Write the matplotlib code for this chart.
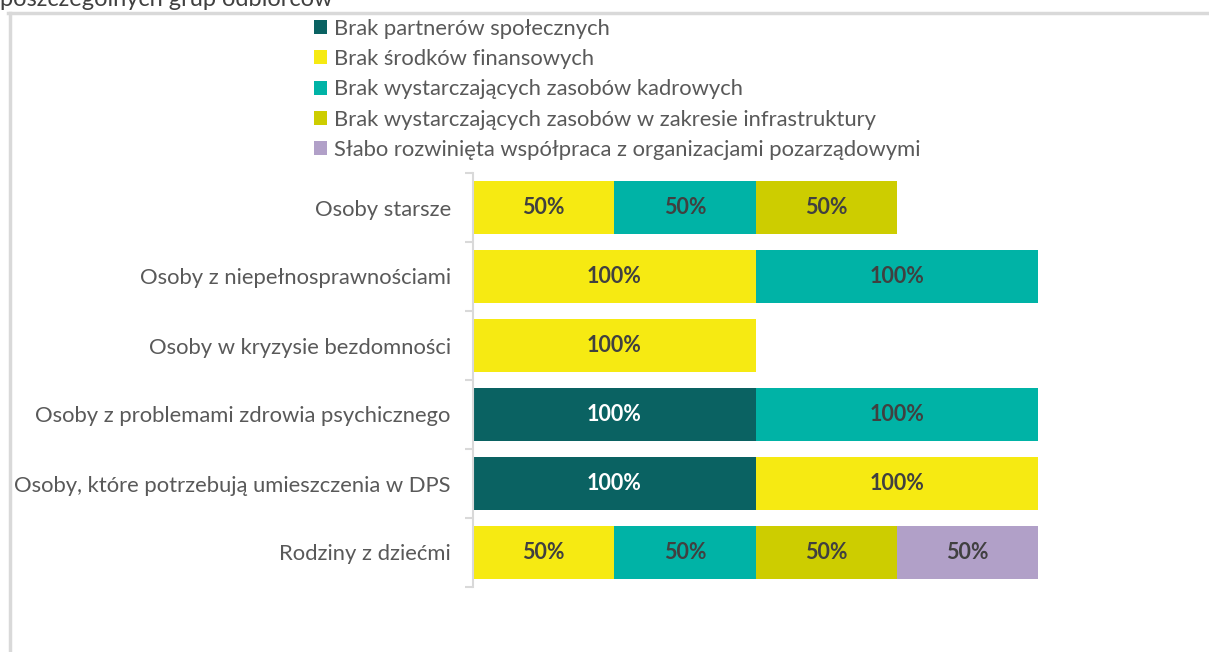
import matplotlib
matplotlib.use("Agg")
import matplotlib.pyplot as plt
from matplotlib.patches import Patch
from matplotlib.lines import Line2D

plt.rcParams['font.family'] = ['Lato', 'DejaVu Sans']

# Groups of recipients (top to bottom)
categories = [
    "Osoby starsze",
    "Osoby z niepełnosprawnościami",
    "Osoby w kryzysie bezdomności",
    "Osoby z problemami zdrowia psychicznego",
    "Osoby, które potrzebują umieszczenia w DPS",
    "Rodziny z dziećmi",
]

series_names = [
    "Brak partnerów społecznych",
    "Brak środków finansowych",
    "Brak wystarczających zasobów kadrowych",
    "Brak wystarczających zasobów w zakresie infrastruktury",
    "Słabo rozwinięta współpraca z organizacjami pozarządowymi",
]

# Share of answers (%) per series, one value per category
partnerzy      = [0, 0, 0, 100, 100, 0]
finanse        = [50, 100, 100, 0, 100, 50]
kadry          = [50, 100, 0, 100, 0, 50]
infrastruktura = [50, 0, 0, 0, 0, 50]
wspolpraca     = [0, 0, 0, 0, 0, 50]

values = [partnerzy, finanse, kadry, infrastruktura, wspolpraca]
colors = ["#0a6262", "#f6ea12", "#00b3a6", "#cdcd00", "#b1a0c8"]
label_colors = ["white", "#404040", "#404040", "#404040", "#404040"]

W, H = 1209, 652
fig = plt.figure(figsize=(W / 100, H / 100), dpi=100)

def fx(px):
    return px / W

def fy(py):
    return 1 - py / H

ax = fig.add_axes([fx(473), fy(587), fx(1038) - fx(473), fy(173) - fy(587)])

ypos = list(range(len(categories)))
left = [0] * len(categories)
for vals, col, lcol in zip(values, colors, label_colors):
    bars = ax.barh(ypos, vals, left=left, height=0.76, color=col, edgecolor='none')
    for b, v in zip(bars, vals):
        if v > 0:
            ax.text(b.get_x() + b.get_width() / 2, b.get_y() + b.get_height() / 2,
                    f"{v}%", ha='center', va='center', fontsize=15.5,
                    fontweight='bold', color=lcol)
    left = [l + v for l, v in zip(left, vals)]

ax.set_xlim(0, 200)
ax.set_ylim(len(categories) - 0.5, -0.5)
ax.set_yticks(ypos)
ax.set_yticklabels(categories, fontsize=15.8, color='#595959')
ax.set_yticks([i - 0.5 for i in range(len(categories) + 1)], minor=True)
ax.tick_params(axis='y', which='major', length=0, pad=16)
ax.tick_params(axis='y', which='minor', length=6, color='#d9d9d9', width=1.5)
ax.set_xticks([])
for side in ['top', 'right', 'bottom']:
    ax.spines[side].set_visible(False)
ax.spines['left'].set_color('#d9d9d9')
ax.spines['left'].set_linewidth(1.5)

handles = [Patch(facecolor=c, edgecolor='none') for c in colors]
fig.legend(handles, series_names, loc='upper left',
           bbox_to_anchor=(fx(305), fy(10)), frameon=False, fontsize=15.8,
           handlelength=0.62, handleheight=0.62, handletextpad=0.3,
           labelspacing=0.47, borderaxespad=0, labelcolor='#595959')

# frame around the figure area
fig.add_artist(Line2D([fx(8), fx(1209)], [fy(13), fy(13)], color='#d9d9d9', lw=2.5))
fig.add_artist(Line2D([fx(9.5), fx(9.5)], [fy(13), fy(652)], color='#d9d9d9', lw=2.5))

fig.text(0, fy(6), "poszczególnych grup odbiorców", fontsize=17, color='#404040',
         ha='left', va='baseline')

fig.savefig("out.png", dpi=100)
